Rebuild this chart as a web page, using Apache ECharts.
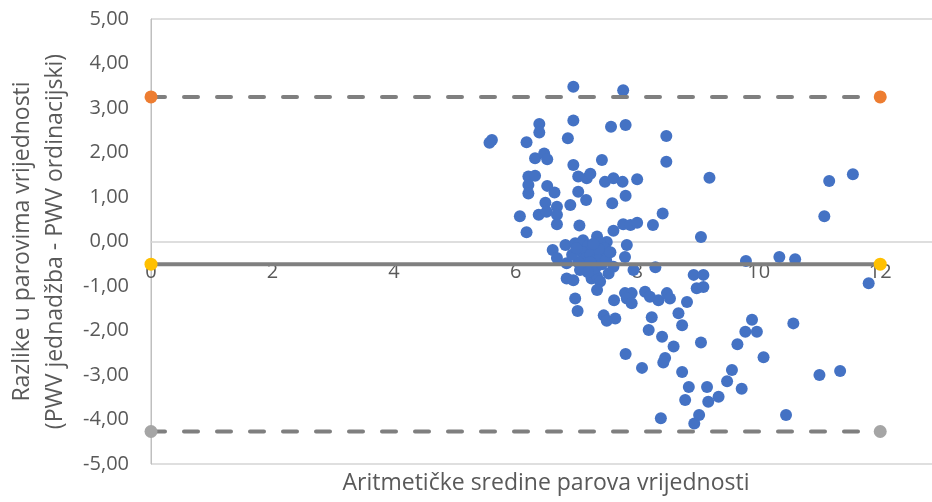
<!DOCTYPE html>
<html>
<head>
<meta charset="utf-8">
<script src="https://cdn.jsdelivr.net/npm/echarts@6/dist/echarts.min.js"></script>
<style>
html,body{margin:0;padding:0;background:#fff;}
#chart{width:932px;height:502px;}
</style>
</head>
<body>
<div id="chart"></div>
<script>
// Means of the value pairs (x) and differences (y)
const avgValues = [
  6.95,7.77,6.39,6.39,6.95,7.57,7.81,8.48,5.61,5.57,
  6.18,6.86,6.32,6.47,6.52,7.42,8.48,6.95,6.21,6.32,
  7.03,7.17,7.23,7.47,7.61,7.76,8.00,9.19,6.21,6.21,
  6.52,6.64,7.03,7.16,7.81,7.59,6.49,6.68,6.90,6.07,
  6.38,6.51,6.68,6.68,7.05,8.42,7.77,7.89,8.00,8.26,
  7.61,6.18,9.05,
  11.16,11.55,11.08,9.79,10.34,10.60,11.81,
  6.61,6.82,6.98,6.68,6.84,7.34,7.50,7.83,7.80,7.61,
  7.94,8.30,8.93,9.09,8.98,9.09,6.84,6.95,6.98,7.02,
  7.25,7.34,7.39,7.53,7.34,7.62,7.80,7.91,7.83,7.91,
  8.13,8.21,8.35,8.49,8.54,8.82,7.45,7.50,7.64,8.24,
  8.19,8.41,8.68,8.74,8.60,9.05,7.81,8.08,8.46,8.43,
  8.74,8.85,8.79,9.15,9.17,9.34,8.39,8.94,9.02,9.89,
  9.78,9.97,9.65,10.08,9.56,9.48,9.72,10.57,10.45,11.00,
  11.34,
  7.05,7.11,7.19,7.26,7.39,7.46,7.10,7.16,7.23,7.31,
  7.39,7.03,7.13,7.23,7.31,7.42,7.49,6.93,7.06,7.19,
  7.56,7.37,7.00,7.28
];
const diffValues = [
  3.48,3.40,2.64,2.45,2.72,2.58,2.62,2.37,2.28,2.22,
  2.23,2.32,1.87,1.98,1.85,1.83,1.79,1.72,1.46,1.48,
  1.46,1.42,1.52,1.34,1.42,1.34,1.40,1.43,1.27,1.08,
  1.25,1.10,1.12,0.93,1.03,0.86,0.87,0.78,0.82,0.57,
  0.60,0.67,0.60,0.39,0.36,0.63,0.39,0.37,0.42,0.37,
  0.24,0.21,0.10,
  1.36,1.51,0.57,-0.44,-0.35,-0.40,-0.94,
  -0.19,-0.08,-0.04,-0.37,-0.49,0.11,-0.01,-0.08,-0.35,-0.57,
  -0.64,-0.58,-0.75,-0.75,-1.05,-1.02,-0.83,-0.87,-1.28,-1.56,
  -0.83,-0.79,-0.90,-0.72,-1.09,-1.32,-1.16,-1.16,-1.28,-1.39,
  -1.13,-1.24,-1.32,-1.16,-1.28,-1.36,-1.66,-1.78,-1.73,-1.70,
  -1.99,-2.14,-1.61,-1.88,-2.36,-2.27,-2.53,-2.84,-2.62,-2.72,
  -2.93,-3.27,-3.56,-3.27,-3.60,-3.49,-3.97,-4.09,-3.90,-1.76,
  -2.03,-2.03,-2.31,-2.60,-2.89,-3.14,-3.31,-1.84,-3.90,-3.00,
  -2.91,
  -0.06,0.03,-0.10,-0.17,-0.03,-0.15,-0.24,-0.37,-0.30,-0.42,
  -0.33,-0.46,-0.55,-0.46,-0.60,-0.51,-0.42,-0.30,-0.64,-0.69,
  -0.24,-0.17,-0.15,-0.05
];
// Limits of agreement and mean difference, drawn from x = 0 to x = 12
const lineX = [0, 12];
const upperLimit = 3.25;
const meanDiff = -0.51;
const lowerLimit = -4.27;
// Axis ticks
const xTickValues = [0, 2, 4, 6, 8, 10, 12];
const yTickValues = [-5, -4, -3, -2, -1, 0, 1, 2, 3, 4, 5];

const xTitle = 'Aritmetičke sredine parova vrijednosti';
const yTitle = 'Razlike u parovima vrijednosti\n(PWV jednadžba - PWV ordinacijski)';

const FONT = 'Open Sans';
const GRID_TOP = 19, GRID_H = 445;
const yMin = yTickValues[0], yMax = yTickValues[yTickValues.length - 1];
// shift the x axis so that it crosses the y axis at 0 (as in the original)
const xAxisOffset = -GRID_H * (0 - yMin) / (yMax - yMin);

const scatterData = avgValues.map((x, i) => [x, diffValues[i]]);
const hLine = v => lineX.map(x => [x, v]);

const chart = echarts.init(document.getElementById('chart'), null, {renderer: 'canvas'});
chart.setOption({
  animation: false,
  backgroundColor: '#ffffff',
  textStyle: {fontFamily: FONT},
  grid: {
    left: 151, top: GRID_TOP, width: 790, height: GRID_H,
    containLabel: false, outerBoundsMode: 'none',
    show: true, borderColor: '#bfbfbf', borderWidth: 1, backgroundColor: 'transparent'
  },
  xAxis: {
    type: 'value', min: 0, max: 13, interval: 2,
    position: 'bottom', offset: xAxisOffset,
    axisLine: {show: true, onZero: false, lineStyle: {color: '#d4d4d4', width: 1.5}},
    axisTick: {show: false},
    splitLine: {show: false},
    axisLabel: {
      margin: 21, color: '#595959', fontSize: 20, fontFamily: FONT,
      formatter: v => xTickValues.includes(v) ? String(v) : ''
    },
    name: xTitle, nameLocation: 'middle', nameGap: 230,
    nameTextStyle: {color: '#595959', fontSize: 23, fontFamily: FONT}
  },
  yAxis: {
    type: 'value', min: yMin, max: yMax, interval: 1,
    axisLine: {show: true, onZero: false, lineStyle: {color: '#bfbfbf', width: 1}},
    axisTick: {show: false},
    splitLine: {show: false},
    axisLabel: {
      margin: 22, color: '#595959', fontSize: 20, fontFamily: FONT,
      formatter: v => v.toFixed(2).replace('.', ',')
    },
    name: yTitle, nameLocation: 'middle', nameRotate: 90, nameGap: 77,
    nameTextStyle: {color: '#595959', fontSize: 23, lineHeight: 33, fontFamily: FONT, align: 'center'}
  },
  series: [
    {
      type: 'scatter', data: scatterData, symbol: 'circle', symbolSize: 12, z: 2,
      itemStyle: {color: '#4472C4', opacity: 1}
    },
    {
      type: 'line', data: hLine(upperLimit), symbol: 'circle', symbolSize: 13, z: 3,
      itemStyle: {color: '#ED7D31'},
      lineStyle: {color: '#7f7f7f', width: 4, type: [14, 19], cap: 'round'}
    },
    {
      type: 'line', data: hLine(meanDiff), symbol: 'circle', symbolSize: 13, z: 3,
      itemStyle: {color: '#FFC000'},
      lineStyle: {color: '#7f7f7f', width: 4, type: 'solid'}
    },
    {
      type: 'line', data: hLine(lowerLimit), symbol: 'circle', symbolSize: 13, z: 3,
      itemStyle: {color: '#A5A5A5'},
      lineStyle: {color: '#7f7f7f', width: 4, type: [14, 19], cap: 'round'}
    }
  ]
});
</script>
</body>
</html>
